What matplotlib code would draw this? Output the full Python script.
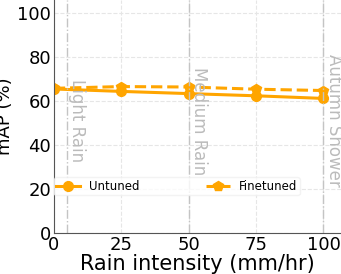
import matplotlib
matplotlib.use("Agg")
import matplotlib.pyplot as plt

# rain intensity (mm/hr) and mAP values
intensity = [0, 25, 50, 75, 100]
untuned = [65.5, 64.4, 63.4, 62.4, 61.2]
finetuned = [65.8, 66.6, 66.4, 65.4, 64.8]

zone_x = [5, 50, 100]
zone_names = ["Light Rain", "Medium Rain", "Autumn Shower"]

fig = plt.figure(figsize=(3.41, 2.74), dpi=100)
ax = fig.add_axes([0.158, 0.150, 0.842, 0.850])

ax.plot(intensity, untuned, color="orange", marker="o", lw=2.2, ms=7, label="Untuned")
ax.plot(intensity, finetuned, color="orange", marker="p", lw=2.2, ms=7,
        linestyle="--", label="Finetuned")

for xv, name in zip(zone_x, zone_names):
    ax.axvline(xv, color="#c4c4c4", lw=1, linestyle="-.")
    ax.text(xv + 0.4, 51, name, rotation=270, color="#bbbbbb", fontsize=12,
            ha="left", va="center")

ax.set_xlim(0, 106.5)
ax.set_ylim(0, 106)
ax.set_xticks([0, 25, 50, 75, 100])
ax.set_yticks([0, 20, 40, 60, 80, 100])
ax.tick_params(labelsize=13, length=0, pad=2)
ax.grid(True, linestyle="--", color="#e6e6e6", lw=0.8)
ax.set_axisbelow(True)
ax.set_xlabel("Rain intensity (mm/hr)", fontsize=15, labelpad=0)
ax.set_ylabel("mAP (%)", fontsize=13, labelpad=2)
for s in ["top", "right"]:
    ax.spines[s].set_visible(False)
for s in ["left", "bottom"]:
    ax.spines[s].set_color("#555555")

leg = ax.legend(loc="center left", bbox_to_anchor=(0.0, 0.2), ncol=2, fontsize=8.5,
                columnspacing=5.6, borderpad=0.2, frameon=True, borderaxespad=0)
leg.get_frame().set_edgecolor("#f0f0f0")
leg.get_frame().set_alpha(0.8)

fig.savefig("out.png", dpi=100)
